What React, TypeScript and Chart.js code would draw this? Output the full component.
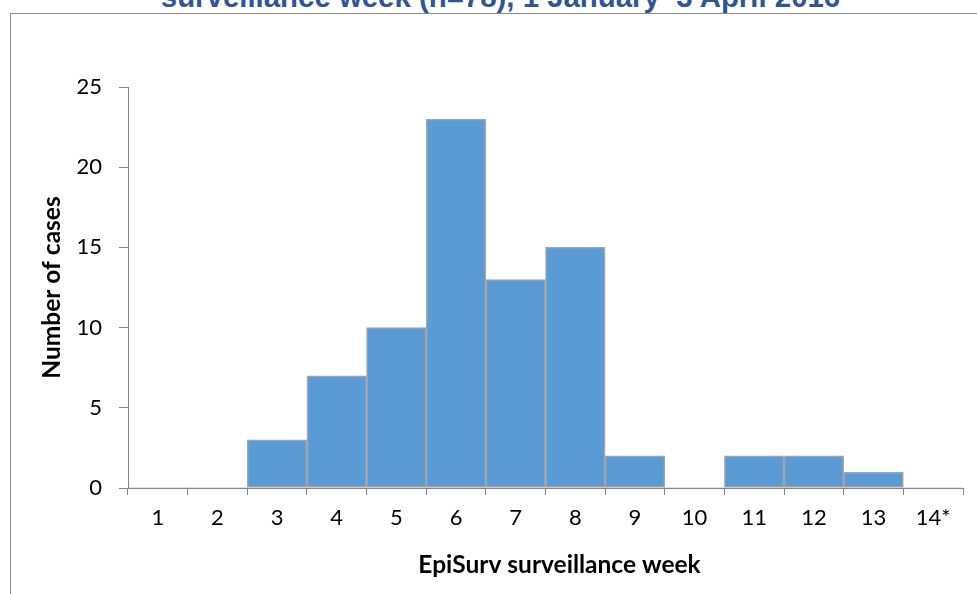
import React, { useEffect, useRef } from "react";
import { Chart, registerables } from "chart.js";

Chart.register(...registerables);

const weeks: string[] = ["1", "2", "3", "4", "5", "6", "7", "8", "9", "10", "11", "12", "13", "14*"];
const cases: number[] = [0, 0, 3, 7, 10, 23, 13, 15, 2, 0, 2, 2, 1, 0];
const yMin = 0;
const yMax = 25;
const yStep = 5;

const titleText = "surveillance week (n=78), 1 January\u20133 April 2016";
const xTitle = "EpiSurv surveillance week";
const yTitle = "Number of cases";

const FONT = "Lato, 'Open Sans', sans-serif";
const AXIS = "#868686";

export default function App() {
  const ref = useRef<HTMLCanvasElement | null>(null);

  useEffect(() => {
    if (!ref.current) return;
    const chart = new Chart(ref.current, {
      type: "bar",
      data: {
        labels: weeks,
        datasets: [
          {
            data: cases,
            backgroundColor: "#5B9BD5",
            borderColor: "#A5A5A5",
            borderWidth: (c: any) => (c.raw === 0 ? 0 : 1.5),
            borderSkipped: false,
            barPercentage: 1,
            categoryPercentage: 1,
          },
        ],
      },
      options: {
        animation: false,
        responsive: false,
        maintainAspectRatio: false,
        layout: { padding: { top: 87, right: 14, left: 0, bottom: 0 } },
        plugins: {
          legend: { display: false },
          tooltip: { enabled: false },
          title: { display: false },
        },
        scales: {
          x: {
            offset: true,
            grid: { offset: true, drawOnChartArea: false, drawTicks: true, tickLength: 7, color: AXIS },
            border: { color: AXIS, width: 1 },
            ticks: { font: { family: FONT, size: 22 }, color: "#000", padding: 10, maxRotation: 0, autoSkip: false },
            title: {
              display: true,
              text: xTitle,
              color: "#000",
              font: { family: FONT, size: 24.5, weight: "bold" },
              padding: { top: 0, bottom: 14 },
            },
            afterFit: (s: any) => {
              s.height = 594 - 488;
              if (!s.__shifted) {
                const orig = s.drawTitle.bind(s);
                s.drawTitle = function () {
                  const ctx = this.ctx;
                  ctx.save();
                  ctx.translate(14, 0);
                  orig();
                  ctx.restore();
                };
                s.__shifted = true;
              }
            },
          },
          y: {
            min: yMin,
            max: yMax,
            grid: { drawOnChartArea: false, drawTicks: true, tickLength: 9, color: AXIS },
            border: { color: AXIS, width: 1 },
            ticks: { stepSize: yStep, font: { family: FONT, size: 22 }, color: "#000", padding: 17 },
            title: {
              display: true,
              text: yTitle,
              color: "#000",
              font: { family: FONT, size: 24.5, weight: "bold" },
              padding: { top: 37, bottom: 0 },
            },
            afterFit: (s: any) => {
              s.width = 128;
            },
          },
        },
      },
    });
    return () => chart.destroy();
  }, []);

  return (
    <div style={{ position: "absolute", left: 0, top: 0, width: 977, height: 594, overflow: "hidden", background: "#fff" }}>
      <div
        style={{
          position: "absolute",
          left: 0,
          width: 1001,
          top: -18,
          textAlign: "center",
          fontFamily: "'Liberation Sans', Arial, sans-serif",
          fontWeight: "bold",
          fontSize: 29.4,
          lineHeight: "29.4px",
          color: "#2F5597",
          whiteSpace: "nowrap",
        }}
      >
        {titleText}
      </div>
      <div
        style={{
          position: "absolute",
          left: 10,
          top: 13,
          width: 1000,
          height: 700,
          border: "1.5px solid #8C8C8C",
          boxSizing: "border-box",
        }}
      />
      <canvas ref={ref} width={977} height={594} style={{ position: "absolute", left: 0, top: 0, width: 977, height: 594 }} />
    </div>
  );
}
